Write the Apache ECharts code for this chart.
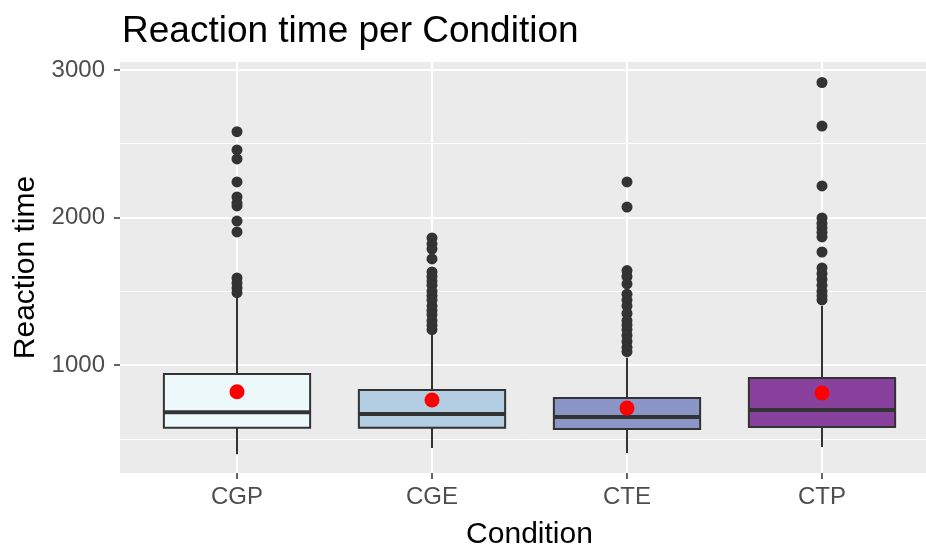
<!DOCTYPE html>
<html>
<head>
<meta charset="utf-8">
<script src="https://cdn.jsdelivr.net/npm/echarts@6/dist/echarts.min.js"></script>
<style>
  html, body { margin: 0; padding: 0; background: #ffffff; }
  #chart { width: 926px; height: 549px; }
</style>
</head>
<body>
<div id="chart"></div>
<script>
// ---- Data ----
var categories = ['CGP', 'CGE', 'CTE', 'CTP'];
var boxFills = ['#EDF8FB', '#B3CDE3', '#8C96C6', '#88419D'];
// [lower whisker, Q1, median, Q3, upper whisker]
var boxCGP = [395, 575, 679, 939, 1480];
var boxCGE = [437, 575, 668, 830, 1210];
var boxCTE = [403, 566, 647, 776, 1050];
var boxCTP = [444, 580, 695, 912, 1400];
var meanValues = [819, 763, 708, 810];
var outCGP = [2582, 2458, 2397, 2241, 2139, 2098, 2078, 1976, 1902, 1590, 1556, 1522, 1490];
var outCGE = [1861, 1820, 1786, 1719, 1631, 1600, 1570, 1540, 1500, 1470, 1440, 1400, 1370, 1340, 1300, 1270, 1240];
var outCTE = [2241, 2071, 1640, 1600, 1550, 1480, 1440, 1400, 1350, 1300, 1271, 1240, 1200, 1160, 1120, 1090];
var outCTP = [2915, 2620, 2214, 1997, 1960, 1930, 1900, 1868, 1766, 1658, 1620, 1580, 1540, 1500, 1470, 1441];
var yMajorTicks = [1000, 2000, 3000];
var yMinorTicks = [500, 1500, 2500];
var yRange = [268, 3054];
var xRange = [0.4, 4.6];

// ---- Build series data ----
var boxes = [boxCGP, boxCGE, boxCTE, boxCTP];
var boxData = boxes.map(function (b, i) { return [i + 1].concat(b); });
var outliers = [outCGP, outCGE, outCTE, outCTP];
var outlierData = [];
outliers.forEach(function (arr, i) {
  arr.forEach(function (v) { outlierData.push([i + 1, v]); });
});
var meanData = meanValues.map(function (v, i) { return [i + 1, v]; });
var xTickValues = categories.map(function (c, i) { return i + 1; });

var FONT = "'Liberation Sans', Arial, sans-serif";
var DARK = '#333333';

function renderBox(params, api) {
  var x = api.value(0);
  var lo = api.value(1), q1 = api.value(2), med = api.value(3), q3 = api.value(4), hi = api.value(5);
  var hw = 0.375;
  var tl = api.coord([x - hw, q3]);
  var br = api.coord([x + hw, q1]);
  var cHi = api.coord([x, hi]), cQ3 = api.coord([x, q3]);
  var cQ1 = api.coord([x, q1]), cLo = api.coord([x, lo]);
  var mL = api.coord([x - hw, med]), mR = api.coord([x + hw, med]);
  return {
    type: 'group',
    children: [
      { type: 'line', shape: { x1: cHi[0], y1: cHi[1], x2: cQ3[0], y2: cQ3[1] }, style: { stroke: DARK, lineWidth: 2 } },
      { type: 'line', shape: { x1: cQ1[0], y1: cQ1[1], x2: cLo[0], y2: cLo[1] }, style: { stroke: DARK, lineWidth: 2 } },
      { type: 'rect', shape: { x: tl[0], y: tl[1], width: br[0] - tl[0], height: br[1] - tl[1] },
        style: { fill: boxFills[params.dataIndex], stroke: DARK, lineWidth: 2 } },
      { type: 'line', shape: { x1: mL[0], y1: mL[1], x2: mR[0], y2: mR[1] }, style: { stroke: DARK, lineWidth: 4 } }
    ]
  };
}

var chart = echarts.init(document.getElementById('chart'), null, { renderer: 'canvas' });
chart.setOption({
  backgroundColor: '#ffffff',
  animation: false,
  title: {
    text: 'Reaction time per Condition',
    left: 117,
    top: 8,
    textStyle: { fontFamily: FONT, fontSize: 37, fontWeight: 'normal', color: '#000000' }
  },
  grid: {
    left: 120, top: 62, width: 819, height: 411,
    containLabel: false,
    outerBoundsMode: 'none',
    show: true, backgroundColor: '#EBEBEB', borderWidth: 0
  },
  xAxis: {
    type: 'value',
    min: xRange[0], max: xRange[1],
    name: 'Condition',
    nameLocation: 'middle',
    nameGap: 47,
    nameTextStyle: { fontFamily: FONT, fontSize: 30, color: '#000000' },
    axisLine: { show: false },
    axisTick: { show: true, length: 6, customValues: xTickValues, lineStyle: { color: DARK, width: 1.5 } },
    axisLabel: {
      customValues: xTickValues,
      margin: 12,
      fontFamily: FONT, fontSize: 24, color: '#4D4D4D',
      formatter: function (v) { return categories[Math.round(v) - 1] || ''; }
    },
    splitLine: { show: true, lineStyle: { color: '#FFFFFF', width: 2 } }
  },
  yAxis: [
    {
      type: 'value',
      min: yRange[0], max: yRange[1],
      name: 'Reaction time',
      nameLocation: 'middle',
      nameGap: 77,
      nameTextStyle: { fontFamily: FONT, fontSize: 30, color: '#000000' },
      axisLine: { show: false },
      axisTick: { show: true, length: 6, customValues: yMajorTicks, lineStyle: { color: DARK, width: 1.5 } },
      axisLabel: {
        customValues: yMajorTicks, margin: 15, fontFamily: FONT, fontSize: 24, color: '#4D4D4D',
        formatter: function (v) { return String(v); }
      },
      splitLine: { show: true, lineStyle: { color: '#FFFFFF', width: 2 } },
      z: 2
    },
    {
      type: 'value',
      min: yRange[0], max: yRange[1],
      position: 'left',
      axisLine: { show: false },
      axisTick: { show: false, customValues: yMinorTicks },
      axisLabel: { show: false, customValues: yMinorTicks },
      splitLine: { show: true, lineStyle: { color: '#FFFFFF', width: 1 } },
      z: 1
    }
  ],
  series: [
    {
      type: 'custom',
      renderItem: renderBox,
      data: boxData,
      encode: { x: 0, y: [1, 2, 3, 4, 5] },
      clip: false,
      z: 2
    },
    {
      type: 'scatter',
      data: outlierData,
      symbol: 'circle',
      symbolSize: 11,
      itemStyle: { color: DARK, opacity: 1 },
      z: 3
    },
    {
      type: 'scatter',
      data: meanData,
      symbol: 'circle',
      symbolSize: 15,
      itemStyle: { color: '#FF0000', opacity: 1 },
      z: 4
    }
  ]
});
</script>
</body>
</html>
